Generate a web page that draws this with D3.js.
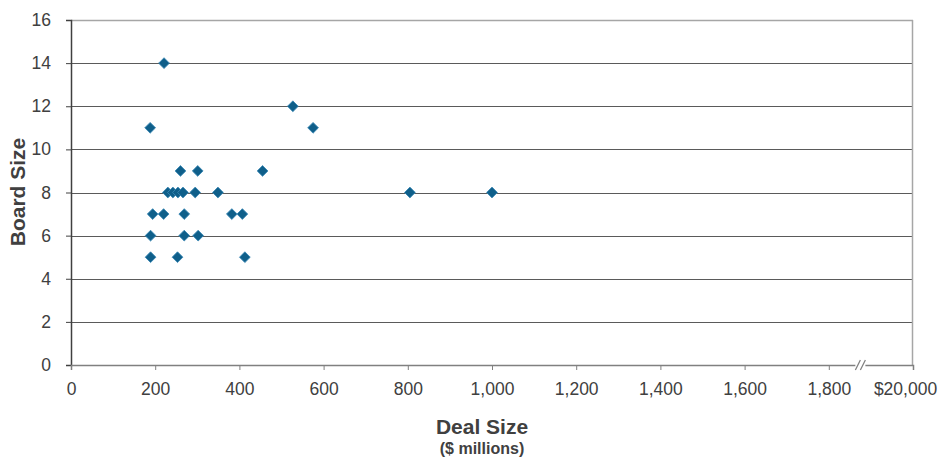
<!DOCTYPE html>
<html>
<head>
<meta charset="utf-8">
<script src="https://cdn.jsdelivr.net/npm/d3@7/dist/d3.min.js"></script>
<style>
  html, body { margin: 0; padding: 0; background: #fff; }
  svg { display: block; font-family: "Liberation Sans", Arial, sans-serif; }
</style>
</head>
<body>
<svg id="chart" width="945" height="459"></svg>
<script>
// Data
const dealSize  = [221, 188, 527, 575, 260, 301, 455, 230, 242, 254, 266, 295, 349, 805, 1000, 194, 220, 269, 382, 407, 189, 269, 302, 189, 253, 413];
const boardSize = [14,  11,  12,  11,  9,   9,   9,   8,   8,   8,   8,   8,   8,   8,   8,    7,   7,   7,   7,   7,   6,   6,   6,   5,   5,   5];
const xTickValues = [0, 200, 400, 600, 800, 1000, 1200, 1400, 1600, 1800, 2000];
const xTickLabels = ["0", "200", "400", "600", "800", "1,000", "1,200", "1,400", "1,600", "1,800", "$20,000"];
const yTickValues = [0, 2, 4, 6, 8, 10, 12, 14, 16];
const xTitle = "Deal Size";
const xSubtitle = "($ millions)";
const yTitle = "Board Size";
const axisBreakAt = 1875;

(function () {
const svg = d3.select("#chart");
const mLeft = 71, mRight = 913, mTop = 20, mBottom = 365;
const x = d3.scaleLinear().domain([0, 2000]).range([mLeft, mRight]);
const y = d3.scaleLinear().domain([0, 16]).range([mBottom, mTop]);
const textColor = "#404040";
const font = "Liberation Sans, Arial, sans-serif";

// gridlines
svg.append("g").selectAll("line").data(yTickValues.filter(v => v > 0 && v < 16)).join("line")
  .attr("x1", mLeft).attr("x2", mRight)
  .attr("y1", d => Math.round(y(d)) + 0.5).attr("y2", d => Math.round(y(d)) + 0.5)
  .attr("stroke", "#5a5a5a").attr("stroke-width", 1.2);

// top and right border (light)
svg.append("line").attr("x1", mLeft).attr("x2", mRight).attr("y1", mTop + 0.5).attr("y2", mTop + 0.5)
  .attr("stroke", "#a6a6a6").attr("stroke-width", 1.5);
svg.append("line").attr("x1", mRight - 0.5).attr("x2", mRight - 0.5).attr("y1", mTop).attr("y2", mBottom)
  .attr("stroke", "#a6a6a6").attr("stroke-width", 1.5);

// y axis
const yAxis = d3.axisLeft(y).tickValues(yTickValues).tickSize(5).tickPadding(15).tickFormat(d3.format("d"));
const gy = svg.append("g").attr("transform", `translate(${mLeft},0)`).call(yAxis);
gy.select(".domain").attr("stroke", "#404040").attr("stroke-width", 1.5);
gy.selectAll(".tick line").attr("stroke", "#404040");
gy.selectAll(".tick text").attr("fill", textColor).style("font-size", "17.5px").style("font-family", font);

// x axis
const xAxis = d3.axisBottom(x).tickValues(xTickValues).tickSize(5).tickPadding(8)
  .tickFormat((d, i) => xTickLabels[i]);
const gx = svg.append("g").attr("transform", `translate(0,${mBottom})`).call(xAxis);
gx.select(".domain").attr("stroke", "#808080").attr("stroke-width", 1.5);
gx.selectAll(".tick line").attr("stroke", "#808080");
gx.selectAll(".tick text").attr("fill", textColor).attr("y", 30).attr("dy", "0")
  .attr("dx", (d, i) => i === xTickValues.length - 1 ? -8 : 0)
  .style("font-size", "17.5px").style("font-family", font);

// axis break "//"
const bx = x(axisBreakAt);
svg.append("rect").attr("x", bx - 5).attr("y", mBottom - 3).attr("width", 10).attr("height", 6).attr("fill", "#fff");
[-2.5, 2.5].forEach(o => {
  svg.append("line").attr("x1", bx + o - 2.5).attr("x2", bx + o + 2.5)
    .attr("y1", mBottom + 5).attr("y2", mBottom - 5)
    .attr("stroke", "#808080").attr("stroke-width", 1.2);
});

// points
svg.append("g").selectAll("path").data(dealSize.map((d, i) => [d, boardSize[i]])).join("path")
  .attr("transform", d => `translate(${x(d[0])},${y(d[1])}) rotate(45)`)
  .attr("d", d3.symbol().type(d3.symbolSquare).size(58))
  .attr("fill", "#0f5f8a").attr("stroke", "#3a88b5").attr("stroke-width", 0.8);

// titles
svg.append("text").attr("x", 482).attr("y", 434).attr("text-anchor", "middle")
  .attr("fill", textColor).style("font-size", "21px").style("font-weight", "bold").text(xTitle);
svg.append("text").attr("x", 482).attr("y", 454).attr("text-anchor", "middle")
  .attr("fill", textColor).style("font-size", "16px").style("font-weight", "bold").text(xSubtitle);
svg.append("text").attr("transform", "translate(25,192) rotate(-90)").attr("text-anchor", "middle")
  .attr("fill", textColor).style("font-size", "21px").style("font-weight", "bold").text(yTitle);
})();
</script>
</body>
</html>
